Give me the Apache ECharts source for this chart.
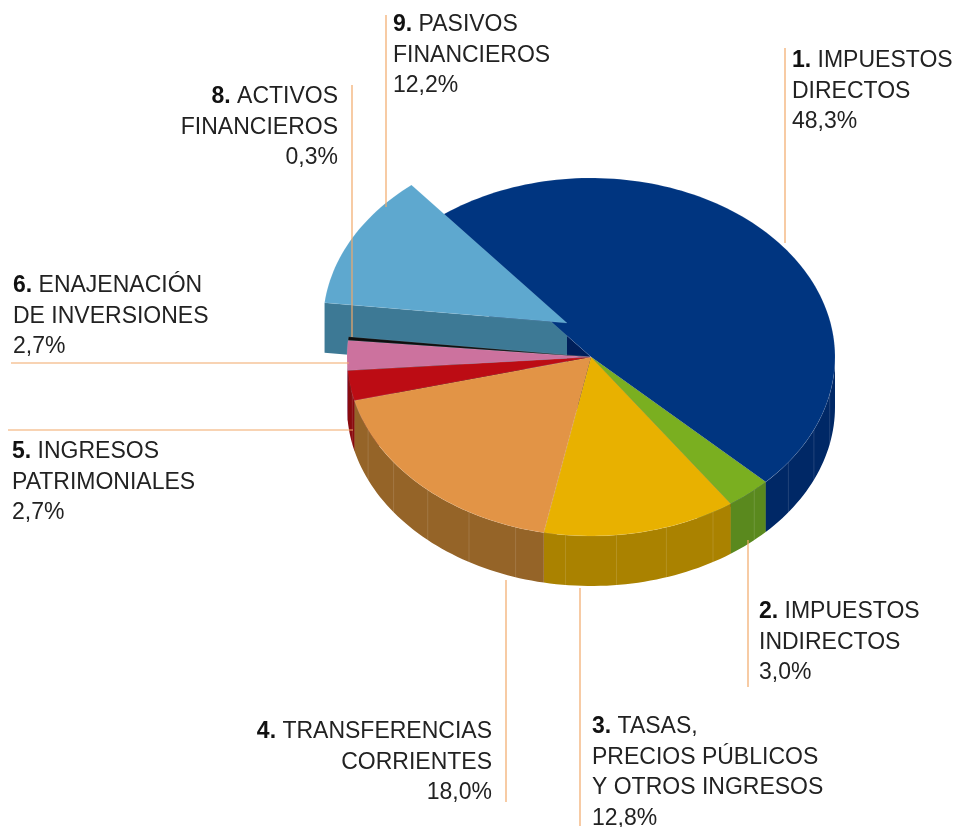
<!DOCTYPE html>
<html>
<head>
<meta charset="utf-8">
<script src="https://cdn.jsdelivr.net/npm/echarts@6/dist/echarts.min.js"></script>
<style>
  html, body { margin: 0; padding: 0; background: #ffffff; }
  #chart { width: 962px; height: 827px; }
</style>
</head>
<body>
<div id="chart"></div>
<script>
// data
const sliceNumbers = ['1', '2', '3', '4', '5', '6', '8', '9']
const sliceNames = [
  ['IMPUESTOS', 'DIRECTOS'],
  ['IMPUESTOS', 'INDIRECTOS'],
  ['TASAS,', 'PRECIOS PÚBLICOS', 'Y OTROS INGRESOS'],
  ['TRANSFERENCIAS', 'CORRIENTES'],
  ['INGRESOS', 'PATRIMONIALES'],
  ['ENAJENACIÓN', 'DE INVERSIONES'],
  ['ACTIVOS', 'FINANCIEROS'],
  ['PASIVOS', 'FINANCIEROS']
]
const sliceValues = [48.3, 3.0, 12.8, 18.0, 2.7, 2.7, 0.3, 12.2]

// styles
const topColors = ['#003580', '#7aaf20', '#e8b100', '#e29446', '#bc0c14', '#cc729e', '#0d0d0d', '#5ea8cf']
const sideColors = ['#002866', '#5a891e', '#aa8200', '#956428', '#8a0a0e', '#9a5578', '#000000', '#3f7b98']
const faceColors = ['#001f5a', '#4a7418', '#8f6e00', '#7c5220', '#70080b', '#804664', '#000000', '#3d7995']
const explode = [[0, 0], [0, 0], [0, 0], [0, 0], [0, 0], [0, 0], [0, 0], [-24, -34]]

// layout of the labels: [x, centre of first line, align]
const labelAnchors = [
  [792, 61, 'left'], [759, 612, 'left'], [592, 727, 'left'], [492, 732, 'right'],
  [12, 452, 'left'], [13, 286, 'left'], [338, 97, 'right'], [393, 25, 'left']
]
const leaderLines = [
  [785, 48, 785, 243], [748, 540, 748, 687], [580, 588, 580, 826], [506, 580, 506, 802],
  [8, 430, 353, 430], [11, 363, 349, 363], [352, 85, 352, 337], [386, 15, 386, 207]
]

const CX = 591, CY = 357, RX = 244, RY = 179, DEPTH = 50, START = 129.6
const total = sliceValues.reduce((a, b) => a + b, 0)

function pt (deg, ox, oy, dz) {
  const r = deg * Math.PI / 180
  return [CX + RX * Math.cos(r) + ox, CY - RY * Math.sin(r) + oy + dz]
}

function arc (from, to, ox, oy, dz) {
  const n = Math.max(2, Math.ceil(Math.abs(from - to) / 1.5) + 1)
  const pts = []
  for (let k = 0; k < n; k++) {
    pts.push(pt(from + (to - from) * k / (n - 1), ox, oy, dz))
  }
  return pts
}

function renderItem (params, api) {
  const i = params.dataIndex
  let a1 = START
  for (let k = 0; k < i; k++) a1 -= sliceValues[k] / total * 360
  const a2 = a1 - api.value(0) / total * 360
  const ox = explode[i][0], oy = explode[i][1]
  const lifted = ox !== 0 || oy !== 0
  const children = []

  // radial faces
  ;[[a1, a1 + 90], [a2, a2 - 90]].forEach(function (e) {
    if (Math.sin(e[1] * Math.PI / 180) < 0) {
      children.push({
        type: 'polygon',
        z2: lifted ? 3 : 1,
        shape: { points: [[CX + ox, CY + oy], pt(e[0], ox, oy, 0), pt(e[0], ox, oy, DEPTH), [CX + ox, CY + oy + DEPTH]] },
        style: { fill: faceColors[i] }
      })
    }
  })

  // outer wall, front part only
  for (let k = -2; k <= 1; k++) {
    const lo = Math.max(a2, -180 + 360 * k)
    const hi = Math.min(a1, 360 * k)
    if (hi > lo) {
      const pts = arc(hi, lo, ox, oy, 0).concat(arc(lo, hi, ox, oy, DEPTH))
      children.push({
        type: 'polygon',
        z2: lifted ? 3 : 2,
        shape: { points: pts },
        style: { fill: sideColors[i] }
      })
      for (let a = Math.ceil(lo / 12) * 12; a < hi; a += 12) {
        if (a - lo < 2 || hi - a < 2) continue
        const p = pt(a, ox, oy, 0), q = pt(a, ox, oy, DEPTH)
        children.push({
          type: 'line',
          z2: lifted ? 3.5 : 2.5,
          shape: { x1: p[0], y1: p[1], x2: q[0], y2: q[1] },
          style: { stroke: 'rgba(255,255,255,0.22)', lineWidth: 0.6 }
        })
      }
    }
  }

  // top face
  children.push({
    type: 'polygon',
    z2: lifted ? 5 : 4,
    shape: { points: [[CX + ox, CY + oy]].concat(arc(a1, a2, ox, oy, 0)) },
    style: { fill: topColors[i], stroke: 'rgba(255,255,255,0.18)', lineWidth: 0.5 }
  })

  return { type: 'group', children: children }
}

const fmt = v => v.toFixed(1).replace('.', ',') + '%'

const graphics = []
leaderLines.forEach(function (l) {
  graphics.push({
    type: 'line',
    z: 10,
    shape: { x1: l[0], y1: l[1], x2: l[2], y2: l[3] },
    style: { stroke: '#f2a868', lineWidth: 1.2 }
  })
})
sliceNumbers.forEach(function (num, i) {
  const a = labelAnchors[i]
  const lines = sliceNames[i].slice()
  lines[0] = '{b|' + num + '.} ' + lines[0]
  lines.push(fmt(sliceValues[i]))
  graphics.push({
    type: 'text',
    z: 11,
    x: a[0],
    y: a[1] - 15.25,
    style: {
      text: lines.join('\n'),
      fill: '#222222',
      font: '23px "Liberation Sans", Arial, sans-serif',
      lineHeight: 30.5,
      align: a[2],
      verticalAlign: 'top',
      rich: {
        b: { fontWeight: 'bold', fontSize: 23, fontFamily: '"Liberation Sans", Arial, sans-serif', lineHeight: 30.5, fill: '#111111' }
      }
    }
  })
})

const myChart = echarts.init(document.getElementById('chart'))
myChart.setOption({
  animation: false,
  series: [{
    type: 'custom',
    coordinateSystem: 'none',
    renderItem: renderItem,
    data: sliceValues.map(v => [v])
  }],
  graphic: graphics
})
</script>
</body>
</html>
